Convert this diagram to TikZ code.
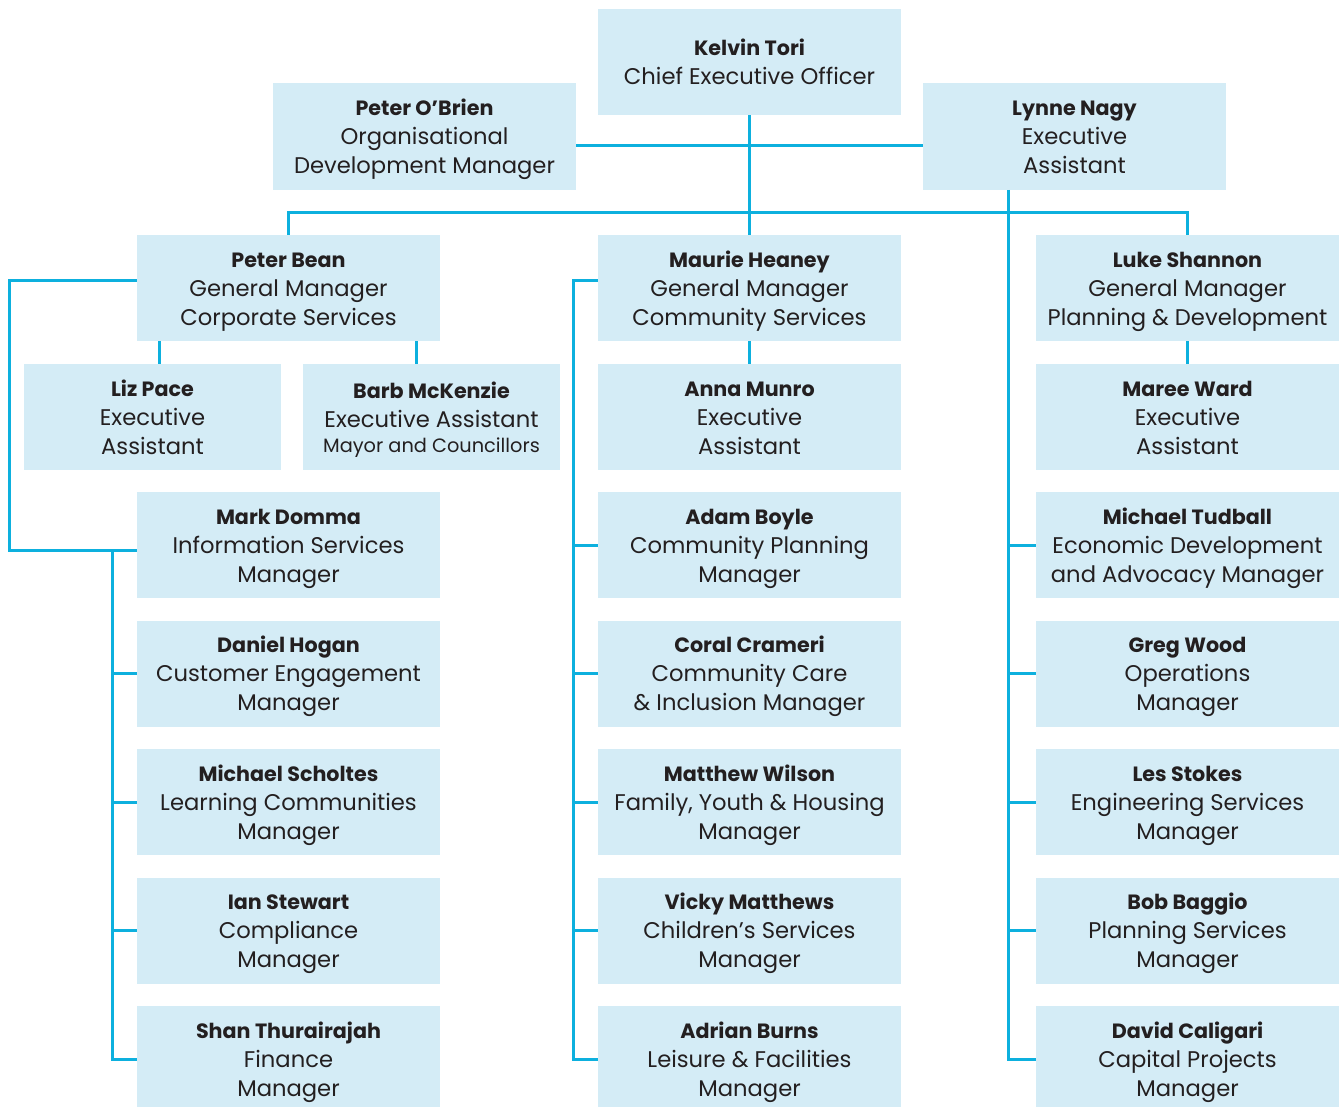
\documentclass[tikz,border=0pt]{standalone}
\usepackage{fontspec}
\setmainfont{Poppins}
\definecolor{boxfill}{HTML}{D4ECF6}
\definecolor{linec}{HTML}{0DB0DE}
\definecolor{txt}{HTML}{231F20}
\newcommand\nm[1]{\rule{0pt}{17pt}{\fontsize{15.5}{21.75}\selectfont\bfseries #1}}
\newcommand\eb{\rule[-5pt]{0pt}{5pt}}
\begin{document}
\begin{tikzpicture}[x=0.75pt,y=-0.75pt,
  box/.style={fill=boxfill, draw=none, minimum width=227.25pt, minimum height=79.5pt,
    inner sep=0pt, align=center, text=txt, font=\fontsize{17}{21.75}\selectfont},
  narrowbox/.style={box, minimum width=192.75pt},
  conn/.style={draw=linec, line width=2.25pt}]
\clip (0,0) rectangle (1341,1106);
\fill[white] (0,0) rectangle (1341,1106);
% top
\node[box] (ceo) at (749.5,62) {\nm{Kelvin Tori}\\Chief Executive Officer\eb};
\node[box] (obrien) at (424.5,136.5) {\nm{Peter O’Brien}\\Organisational\\Development Manager\eb};
\node[box] (nagy) at (1074.5,136.5) {\nm{Lynne Nagy}\\Executive\\Assistant\eb};
% general managers
\node[box] (bean) at (288.5,288) {\nm{Peter Bean}\\General Manager\\Corporate Services\eb};
\node[box] (heaney) at (749.5,288) {\nm{Maurie Heaney}\\General Manager\\Community Services\eb};
\node[box] (shannon) at (1187.5,288) {\nm{Luke Shannon}\\General Manager\\Planning \& Development\eb};
% assistants
\node[narrowbox] (liz) at (152.5,417) {\nm{Liz Pace}\\Executive\\Assistant\eb};
\node[narrowbox] (barb) at (431.5,417) {\nm{Barb McKenzie}\\Executive Assistant\\[-3pt]{\fontsize{14.5}{16}\selectfont Mayor and Councillors}\eb};
\node[box] (anna) at (749.5,417) {\nm{Anna Munro}\\Executive\\Assistant\eb};
\node[box] (maree) at (1187.5,417) {\nm{Maree Ward}\\Executive\\Assistant\eb};
% left column
\node[box] (domma) at (288.5,545) {\nm{Mark Domma}\\Information Services\\Manager\eb};
\node[box] (hogan) at (288.5,673.5) {\nm{Daniel Hogan}\\Customer Engagement\\Manager\eb};
\node[box] (scholtes) at (288.5,802) {\nm{Michael Scholtes}\\Learning Communities\\Manager\eb};
\node[box] (stewart) at (288.5,930.5) {\nm{Ian Stewart}\\Compliance\\Manager\eb};
\node[box] (shan) at (288.5,1059) {\nm{Shan Thurairajah}\\Finance\\Manager\eb};
% middle column
\node[box] (boyle) at (749.5,545) {\nm{Adam Boyle}\\Community Planning\\Manager\eb};
\node[box] (crameri) at (749.5,673.5) {\nm{Coral Crameri}\\Community Care\\\& Inclusion Manager\eb};
\node[box] (wilson) at (749.5,802) {\nm{Matthew Wilson}\\Family, Youth \& Housing\\Manager\eb};
\node[box] (matthews) at (749.5,930.5) {\nm{Vicky Matthews}\\Children’s Services\\Manager\eb};
\node[box] (burns) at (749.5,1059) {\nm{Adrian Burns}\\Leisure \& Facilities\\Manager\eb};
% right column
\node[box] (tudball) at (1187.5,545) {\nm{Michael Tudball}\\Economic Development\\and Advocacy Manager\eb};
\node[box] (wood) at (1187.5,673.5) {\nm{Greg Wood}\\Operations\\Manager\eb};
\node[box] (stokes) at (1187.5,802) {\nm{Les Stokes}\\Engineering Services\\Manager\eb};
\node[box] (baggio) at (1187.5,930.5) {\nm{Bob Baggio}\\Planning Services\\Manager\eb};
\node[box] (david) at (1187.5,1059) {\nm{David Caligari}\\Capital Projects\\Manager\eb};
% connectors
\draw[conn] (obrien.east |- 0,145) -- (nagy.west |- 0,145);
\draw[conn] (ceo.south) -- (heaney.north);
\draw[conn] (bean.north) -- (bean.north |- 0,212) -- (shannon.north |- 0,212) -- (shannon.north);
\draw[conn] (bean.south -| 159,0) -- (liz.north -| 159,0);
\draw[conn] (bean.south -| 416,0) -- (barb.north -| 416,0);
\draw[conn] (heaney.south) -- (anna.north);
\draw[conn] (shannon.south) -- (maree.north);
% left branch
\coordinate (lc) at (112.5,550);
\draw[conn] (bean.west |- 0,280) -- (9,280) -- (9,550) -- (domma.west |- lc);
\draw[conn] (lc) -- (lc |- shan.west) -- (shan.west);
\foreach \n in {hogan,scholtes,stewart} \draw[conn] (lc |- \n.west) -- (\n.west);
% middle branch
\coordinate (mc) at (573,280);
\draw[conn] (heaney.west |- mc) -- (mc) -- (mc |- burns.west) -- (burns.west);
\foreach \n in {boyle,crameri,wilson,matthews} \draw[conn] (mc |- \n.west) -- (\n.west);
% right branch
\coordinate (rc) at (1008,190);
\draw[conn] (rc |- nagy.south) -- (rc |- david.west) -- (david.west);
\foreach \n in {tudball,wood,stokes,baggio} \draw[conn] (rc |- \n.west) -- (\n.west);
\end{tikzpicture}
\end{document}
